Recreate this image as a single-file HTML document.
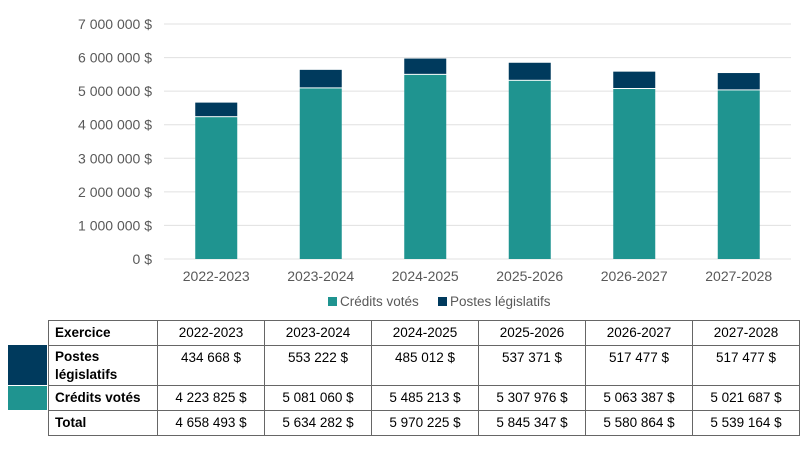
<!DOCTYPE html>
<html><head><meta charset="utf-8"><style>
body{margin:0;width:800px;height:450px;background:#fff;font-family:"Liberation Sans",sans-serif;overflow:hidden;position:relative}
svg{position:absolute;left:0;top:0}
table{position:absolute;left:48px;top:320px;border-collapse:collapse;font-size:13.5px;color:#000}
td{border:1px solid #666;padding:0 6px;height:24px;text-align:center;width:94px;vertical-align:top;line-height:23px}
td.h{text-align:left;font-weight:bold;width:96px}
.sw{position:absolute;left:8px;width:39px}
</style></head><body>
<svg width="800" height="320" id="chart"></svg>
<div class="sw" style="top:345px;height:40px;background:#003a5d"></div>
<div class="sw" style="top:386px;height:24px;background:#1f9490"></div>
<table>
<tr><td class="h">Exercice</td><td>2022-2023</td><td>2023-2024</td><td>2024-2025</td><td>2025-2026</td><td>2026-2027</td><td>2027-2028</td></tr>
<tr style="height:40px"><td class="h" style="line-height:18px;padding-top:2px">Postes législatifs</td><td>434 668 $</td><td>553 222 $</td><td>485 012 $</td><td>537 371 $</td><td>517 477 $</td><td>517 477 $</td></tr>
<tr><td class="h">Crédits votés</td><td>4 223 825 $</td><td>5 081 060 $</td><td>5 485 213 $</td><td>5 307 976 $</td><td>5 063 387 $</td><td>5 021 687 $</td></tr>
<tr><td class="h">Total</td><td>4 658 493 $</td><td>5 634 282 $</td><td>5 970 225 $</td><td>5 845 347 $</td><td>5 580 864 $</td><td>5 539 164 $</td></tr>
</table>
<script>
const categories=["2022-2023","2023-2024","2024-2025","2025-2026","2026-2027","2027-2028"];
const credits=[4223825,5081060,5485213,5307976,5063387,5021687];
const postes=[434668,553222,485012,537371,517477,517477];
const ticks=[0,1000000,2000000,3000000,4000000,5000000,6000000,7000000];
const tickLabels=["0 $","1 000 000 $","2 000 000 $","3 000 000 $","4 000 000 $","5 000 000 $","6 000 000 $","7 000 000 $"];
const svg=document.getElementById('chart');const NS="http://www.w3.org/2000/svg";
const x0=164,x1=791,y0=259,y7=24;
const y=v=>y0-(v/7000000)*(y0-y7);
const bw=(x1-x0)/categories.length;
const xc=i=>x0+bw*(i+0.5);
function mk(t,a){const e=document.createElementNS(NS,t);for(const k in a)e.setAttribute(k,a[k]);svg.appendChild(e);return e;}
ticks.forEach((t,i)=>{
const l=mk('line',{x1:x0,x2:x1,y1:y(t),y2:y(t),stroke:'#e0e0e0','stroke-width':1});


const tx=mk('text',{x:152,y:y(t)+5,'text-anchor':'end','font-size':14,fill:'#595959'});tx.textContent=tickLabels[i];


});
categories.forEach((c,i)=>{
const w=42,xl=xc(i)-w/2;
const r1=mk('rect',{x:xl,y:y(credits[i]),width:w,height:y(0)-y(credits[i]),fill:'#1f9490'});


const r2=mk('rect',{x:xl,y:y(credits[i]+postes[i]),width:w,height:y(credits[i])-y(credits[i]+postes[i])-1,fill:'#003a5d'});


const t=mk('text',{x:xc(i),y:281,'text-anchor':'middle','font-size':14,fill:'#595959'});t.textContent=c;


});
const g1=mk('rect',{x:328,y:297,width:9,height:9,fill:'#1f9490'});


const t1=mk('text',{x:340,y:306,'font-size':13.5,fill:'#595959'});t1.textContent="Crédits votés";


const g2=mk('rect',{x:438,y:297,width:9,height:9,fill:'#003a5d'});


const t2=mk('text',{x:450,y:306,'font-size':13.5,fill:'#595959'});t2.textContent="Postes législatifs";


</script>
</body></html>
